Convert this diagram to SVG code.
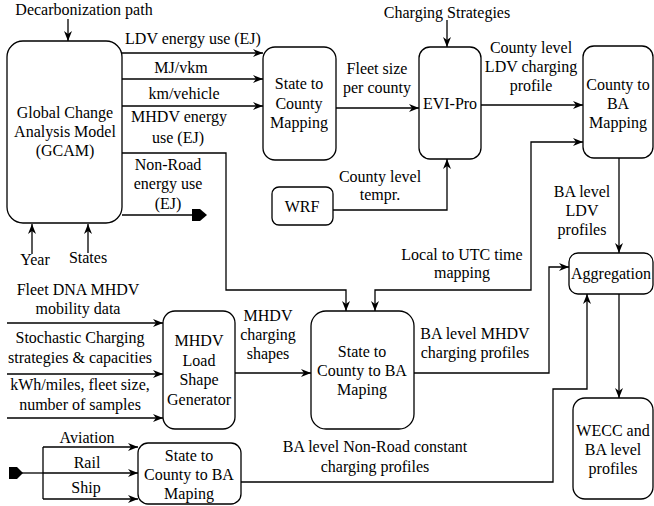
<svg xmlns="http://www.w3.org/2000/svg" width="654" height="506" viewBox="0 0 654 506" font-family="'Liberation Serif', Tinos, 'Times New Roman', Times, 'DejaVu Serif', serif">
<defs>
<marker id="arr" markerUnits="userSpaceOnUse" markerWidth="10" markerHeight="8" refX="10" refY="4" orient="auto-start-reverse" viewBox="0 0 10 8">
<path d="M0,0 L10,4 L0,8 L3,4 Z" fill="#000"/>
</marker>
</defs>
<style>
text{font-size:16px;fill:#000;text-anchor:middle}
.box{fill:#fff;stroke:#000;stroke-width:1.3}
.c{fill:none;stroke:#000;stroke-width:1.3}
.a{marker-end:url(#arr)}
.b{marker-start:url(#arr);marker-end:url(#arr)}
</style>
<rect width="654" height="506" fill="#fff"/>

<g id="connectors">
<path class="c a" d="M68,19 V41"/>
<path class="c a" d="M32,254 V224"/>
<path class="c a" d="M88,253 V224"/>
<path class="c a" d="M122,53 H263"/>
<path class="c a" d="M122,79 H263"/>
<path class="c a" d="M122,106 H263"/>
<path class="c a" d="M122,153 H226 V290 H346 V311"/>
<path class="c" d="M122,215 H193"/>
<polygon points="192,209 200,209 207,215 200,221 192,221" fill="#000"/>
<path class="c a" d="M336,108 H419"/>
<path class="c a" d="M447,20 V47"/>
<path class="c a" d="M333,210 H447 V159"/>
<path class="c a" d="M481,105 H583"/>
<path class="c b" d="M375,311 V290 H531 V142 H583"/>
<path class="c a" d="M619,158 V253"/>
<path class="c a" d="M7,323 H163"/>
<path class="c a" d="M7,374 H163"/>
<path class="c a" d="M7,418 H163"/>
<path class="c a" d="M235,373 H311"/>
<path class="c a" d="M414,373 H549 V267 H569"/>
<path class="c a" d="M241,482 H553 V389 H587 V294"/>
<path class="c a" d="M619,294 V398"/>
<path class="c" d="M22,473 H43"/>
<polygon points="9,467 17,467 23,473 17,479 9,479" fill="#000"/>
<path class="c" d="M43,447 V499"/>
<path class="c a" d="M43,447 H138"/>
<path class="c a" d="M43,473 H138"/>
<path class="c a" d="M43,499 H138"/>
</g>

<g id="labels">
<text x="84" y="15">Decarbonization path</text>
<text x="193" y="44">LDV energy use (EJ)</text>
<text x="181" y="73">MJ/vkm</text>
<text x="184" y="99">km/vehicle</text>
<text x="179" y="122">MHDV energy</text>
<text x="178" y="143">use (EJ)</text>
<text x="168" y="170">Non-Road</text>
<text x="168" y="189">energy use</text>
<text x="168" y="209">(EJ)</text>
<text x="35" y="265">Year</text>
<text x="88" y="263">States</text>
<text x="377" y="74">Fleet size</text>
<text x="377" y="93">per county</text>
<text x="447" y="18">Charging Strategies</text>
<text x="531" y="53">County level</text>
<text x="531" y="72">LDV charging</text>
<text x="531" y="91">profile</text>
<text x="380" y="182">County level</text>
<text x="380" y="200">tempr.</text>
<text x="462" y="260">Local to UTC time</text>
<text x="462" y="278">mapping</text>
<text x="582" y="197">BA level</text>
<text x="582" y="216">LDV</text>
<text x="582" y="235">profiles</text>
<text x="78" y="295">Fleet DNA MHDV</text>
<text x="78" y="314">mobility data</text>
<text x="80" y="343">Stochastic Charging</text>
<text x="80" y="363">strategies &amp; capacities</text>
<text x="80" y="390">kWh/miles, fleet size,</text>
<text x="80" y="410">number of samples</text>
<text x="268" y="321">MHDV</text>
<text x="268" y="340">charging</text>
<text x="268" y="359">shapes</text>
<text x="475" y="339">BA level MHDV</text>
<text x="475" y="358">charging profiles</text>
<text x="375" y="452">BA level Non-Road constant</text>
<text x="375" y="472">charging profiles</text>
<text x="87" y="443">Aviation</text>
<text x="87" y="468">Rail</text>
<text x="86" y="493">Ship</text>
</g>

<g id="gcam">
<rect class="box" x="7" y="41" width="115" height="182" rx="16"/>
<text x="65" y="118">Global Change</text>
<text x="65" y="137">Analysis Model</text>
<text x="65" y="156">(GCAM)</text>
</g>
<g id="state-county">
<rect class="box" x="263" y="47" width="73" height="113" rx="12"/>
<text x="299" y="89">State to</text>
<text x="299" y="109">County</text>
<text x="299" y="128">Mapping</text>
</g>
<g id="evipro">
<rect class="box" x="419" y="47" width="62" height="112" rx="11"/>
<text x="450" y="109">EVI-Pro</text>
</g>
<g id="county-ba">
<rect class="box" x="583" y="46" width="70" height="112" rx="11"/>
<text x="618" y="90">County to</text>
<text x="618" y="109">BA</text>
<text x="618" y="128">Mapping</text>
</g>
<g id="wrf">
<rect class="box" x="272" y="187" width="61" height="38" rx="7"/>
<text x="302" y="212">WRF</text>
</g>
<g id="aggregation">
<rect class="box" x="569" y="253" width="84" height="41" rx="9"/>
<text x="611" y="279">Aggregation</text>
</g>
<g id="mhdv-gen">
<rect class="box" x="163" y="311" width="72" height="118" rx="12"/>
<text x="199" y="346">MHDV</text>
<text x="199" y="366">Load</text>
<text x="199" y="385">Shape</text>
<text x="199" y="405">Generator</text>
</g>
<g id="state-county-ba">
<rect class="box" x="311" y="311" width="103" height="118" rx="15"/>
<text x="362" y="357">State to</text>
<text x="362" y="376">County to BA</text>
<text x="362" y="395">Maping</text>
</g>
<g id="wecc">
<rect class="box" x="573" y="398" width="80" height="101" rx="12"/>
<text x="613" y="436">WECC and</text>
<text x="613" y="455">BA level</text>
<text x="613" y="474">profiles</text>
</g>
<g id="state-county-ba-small">
<rect class="box" x="138" y="443" width="103" height="61" rx="10"/>
<text x="189" y="461">State to</text>
<text x="189" y="480">County to BA</text>
<text x="189" y="499">Maping</text>
</g>
</svg>
